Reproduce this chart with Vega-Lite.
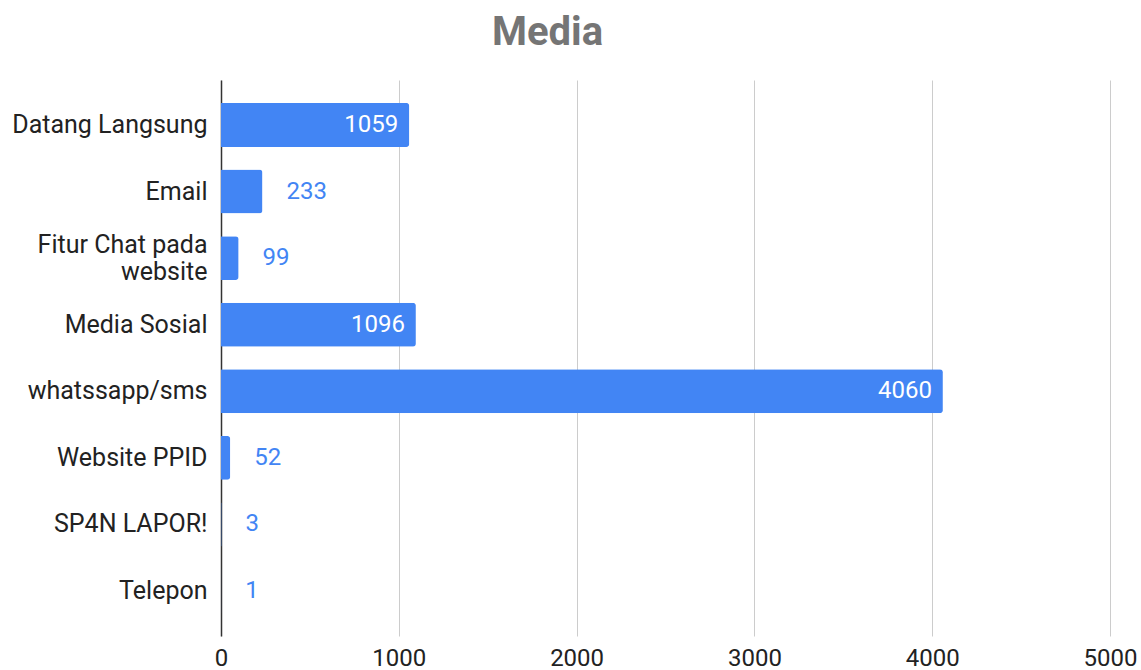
{
  "$schema": "https://vega.github.io/schema/vega-lite/v6.json",
  "autosize": {"type": "none"},
  "width": 889,
  "height": 556,
  "padding": {"left": 221, "top": 80, "right": 31, "bottom": 34},
  "background": "white",
  "title": {
    "text": "Media",
    "font": "Roboto",
    "fontSize": 40,
    "fontWeight": "bold",
    "color": "#757575",
    "anchor": "middle",
    "frame": "group",
    "baseline": "alphabetic",
    "offset": -5,
    "dx": -118
  },
  "data": {
    "values": [
      {"media": "Datang Langsung", "value": 1059},
      {"media": "Email", "value": 233},
      {"media": "Fitur Chat pada website", "value": 99},
      {"media": "Media Sosial", "value": 1096},
      {"media": "whatssapp/sms", "value": 4060},
      {"media": "Website PPID", "value": 52},
      {"media": "SP4N LAPOR!", "value": 3},
      {"media": "Telepon", "value": 1}
    ]
  },
  "encoding": {
    "y": {
      "field": "media",
      "type": "nominal",
      "sort": null,
      "scale": {"paddingInner": 0.34, "paddingOuter": 0.345},
      "axis": {
        "title": null,
        "ticks": false,
        "domain": true,
        "domainColor": "#333333",
        "domainWidth": 1.5,
        "labelFont": "Roboto",
        "labelFontSize": 25,
        "labelColor": "#222222",
        "labelPadding": 14,
        "labelBaseline": "middle",
        "labelLineHeight": 27,
        "labelLimit": 300,
        "labelOffset": {"condition": {"test": "datum.value == 'Fitur Chat pada website'", "value": -13}, "value": 0},
        "labelExpr": "datum.label == 'Fitur Chat pada website' ? ['Fitur Chat pada', 'website'] : datum.label"
      }
    },
    "x": {
      "field": "value",
      "type": "quantitative",
      "scale": {"domain": [0, 5000], "nice": false},
      "axis": {
        "title": null,
        "values": [0, 1000, 2000, 3000, 4000, 5000],
        "format": "d",
        "ticks": false,
        "domain": false,
        "grid": true,
        "gridColor": "#cccccc",
        "gridWidth": 1,
        "labelFont": "Roboto",
        "labelFontSize": 24,
        "labelColor": "#222222",
        "labelPadding": 10,
        "labelFlush": false
      }
    }
  },
  "layer": [
    {
      "mark": {"type": "bar", "color": "#4285F4", "cornerRadiusEnd": 3}
    },
    {
      "transform": [{"filter": "datum.value > 500"}],
      "mark": {"type": "text", "align": "right", "baseline": "middle", "dx": -11, "font": "Roboto", "fontSize": 24, "color": "#ffffff"},
      "encoding": {"text": {"field": "value", "type": "quantitative"}}
    },
    {
      "transform": [{"filter": "datum.value <= 500"}],
      "mark": {"type": "text", "align": "left", "baseline": "middle", "dx": 24, "font": "Roboto", "fontSize": 24, "color": "#4285F4"},
      "encoding": {"text": {"field": "value", "type": "quantitative"}}
    }
  ],
  "config": {"view": {"stroke": null}}
}
